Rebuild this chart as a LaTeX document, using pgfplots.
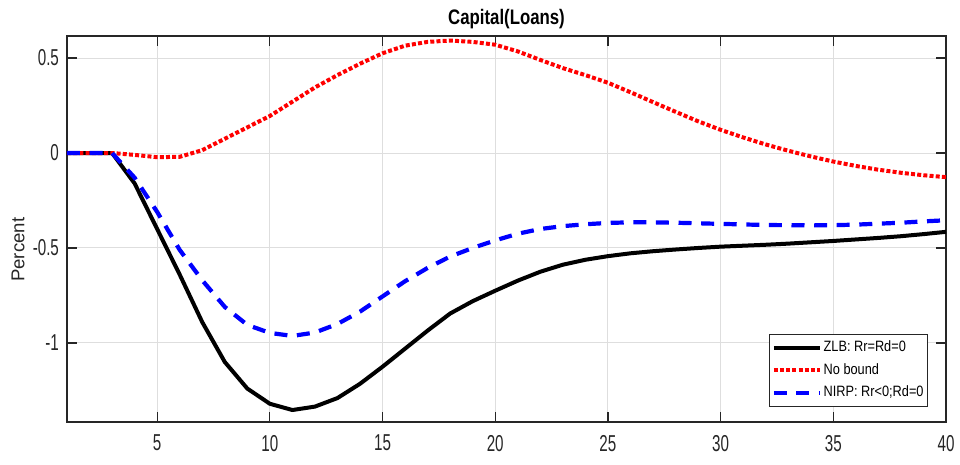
\documentclass[border=0pt]{standalone}
\usepackage{fontspec}
\setmainfont{Liberation Sans}
\newfontfamily\tickfont{Liberation Sans}[FakeStretch=0.66]
\newfontfamily\titlefont{Liberation Sans}[FakeStretch=0.80]
\newfontfamily\legfont{Liberation Sans}[FakeStretch=0.85]
\usepackage{pgfplots}
\pgfplotsset{compat=1.18}
\definecolor{axgray}{RGB}{38,38,38}
\definecolor{gridgray}{RGB}{222,222,222}
\begin{document}
\begin{tikzpicture}
\begin{axis}[
  scale only axis,
  width=439.5pt, height=193pt,
  xmin=1, xmax=40, ymin=-1.416, ymax=0.616,
  xtick={5,10,15,20,25,30,35,40},
  ytick={-1,-0.5,0,0.5},
  yticklabels={-1,-0.5,0,0.5},
  xticklabels={5,10,15,20,25,30,35,40},
  tick align=inside,
  major tick length=5pt,
  axis line style={axgray, line width=0.7pt},
  tick style={axgray, line width=0.6pt},
  grid=major,
  major grid style={gridgray, line width=0.5pt},
  ticklabel style={font=\fontsize{11.5}{12}\tickfont, text=axgray},
  xticklabel style={yshift=-3pt},
  yticklabel style={xshift=-0.5pt},
  every axis title shift=0pt,
  title={Capital(Loans)},
  title style={at={(0.5,1)}, anchor=base, yshift=5.5pt, inner sep=0pt, font=\fontsize{10.5}{12}\titlefont\bfseries, text=black},
  ylabel={Percent},
  ylabel style={at={(axis description cs:-0.0557,0.446)}, anchor=center, inner sep=0pt, font=\fontsize{9.3}{10}\selectfont, text=black!85},
  legend style={at={(0.9795,0.039)}, anchor=south east, draw=axgray, line width=0.6pt,
     font=\fontsize{7.5}{8}\legfont, fill=white, inner xsep=1pt, inner ysep=2pt,
     nodes={inner xsep=0.9pt, inner ysep=1.2pt}, row sep=2.0pt},
  legend cell align=left,
  legend image code/.code={\draw[#1] (0pt,0pt) -- (23pt,0pt);},
]
\addplot[black, line width=2pt, line join=round] coordinates {
(1,0)(2,0)(3,0)(4,-0.16)(5,-0.40)(6,-0.64)(7,-0.89)(8,-1.10)(9,-1.24)(10,-1.32)
(11,-1.353)(12,-1.335)(13,-1.29)(14,-1.215)(15,-1.125)(16,-1.03)(17,-0.935)(18,-0.845)(19,-0.78)(20,-0.725)
(21,-0.672)(22,-0.625)(23,-0.588)(24,-0.562)(25,-0.543)(26,-0.528)(27,-0.517)(28,-0.508)(29,-0.50)(30,-0.493)
(31,-0.488)(32,-0.483)(33,-0.477)(34,-0.47)(35,-0.463)(36,-0.455)(37,-0.447)(38,-0.438)(39,-0.427)(40,-0.415)};
\addlegendentry{ZLB: Rr=Rd=0}
\addplot[red, line width=2pt, dash pattern=on 2pt off 1.1pt] coordinates {
(1,0)(2,0)(3,0)(4,-0.01)(5,-0.022)(6,-0.02)(7,0.015)(8,0.075)(9,0.135)(10,0.195)
(11,0.27)(12,0.345)(13,0.41)(14,0.47)(15,0.525)(16,0.565)(17,0.585)(18,0.592)(19,0.585)(20,0.57)
(21,0.535)(22,0.49)(23,0.447)(24,0.41)(25,0.37)(26,0.32)(27,0.268)(28,0.217)(29,0.167)(30,0.122)
(31,0.082)(32,0.045)(33,0.012)(34,-0.018)(35,-0.045)(36,-0.068)(37,-0.088)(38,-0.104)(39,-0.117)(40,-0.127)};
\addlegendentry{No bound}
\addplot[blue, line width=2.1pt, dash pattern=on 6.5pt off 4.8pt] coordinates {
(1,0)(2,0)(3,0)(4,-0.13)(5,-0.31)(6,-0.51)(7,-0.67)(8,-0.81)(9,-0.905)(10,-0.947)
(11,-0.963)(12,-0.945)(13,-0.9)(14,-0.835)(15,-0.755)(16,-0.675)(17,-0.605)(18,-0.545)(19,-0.5)(20,-0.46)
(21,-0.425)(22,-0.4)(23,-0.385)(24,-0.375)(25,-0.368)(26,-0.365)(27,-0.365)(28,-0.367)(29,-0.37)(30,-0.373)
(31,-0.376)(32,-0.379)(33,-0.38)(34,-0.381)(35,-0.38)(36,-0.377)(37,-0.372)(38,-0.367)(39,-0.36)(40,-0.354)};
\addlegendentry{NIRP: Rr<0;Rd=0}
\end{axis}
\pgfresetboundingbox
\path (current axis.south west) ++(-33.5pt,-21.5pt) coordinate (bbA);
\path (current axis.north east) ++(7pt,18pt) coordinate (bbB);
\useasboundingbox (bbA) rectangle (bbB);
\end{tikzpicture}
\end{document}
